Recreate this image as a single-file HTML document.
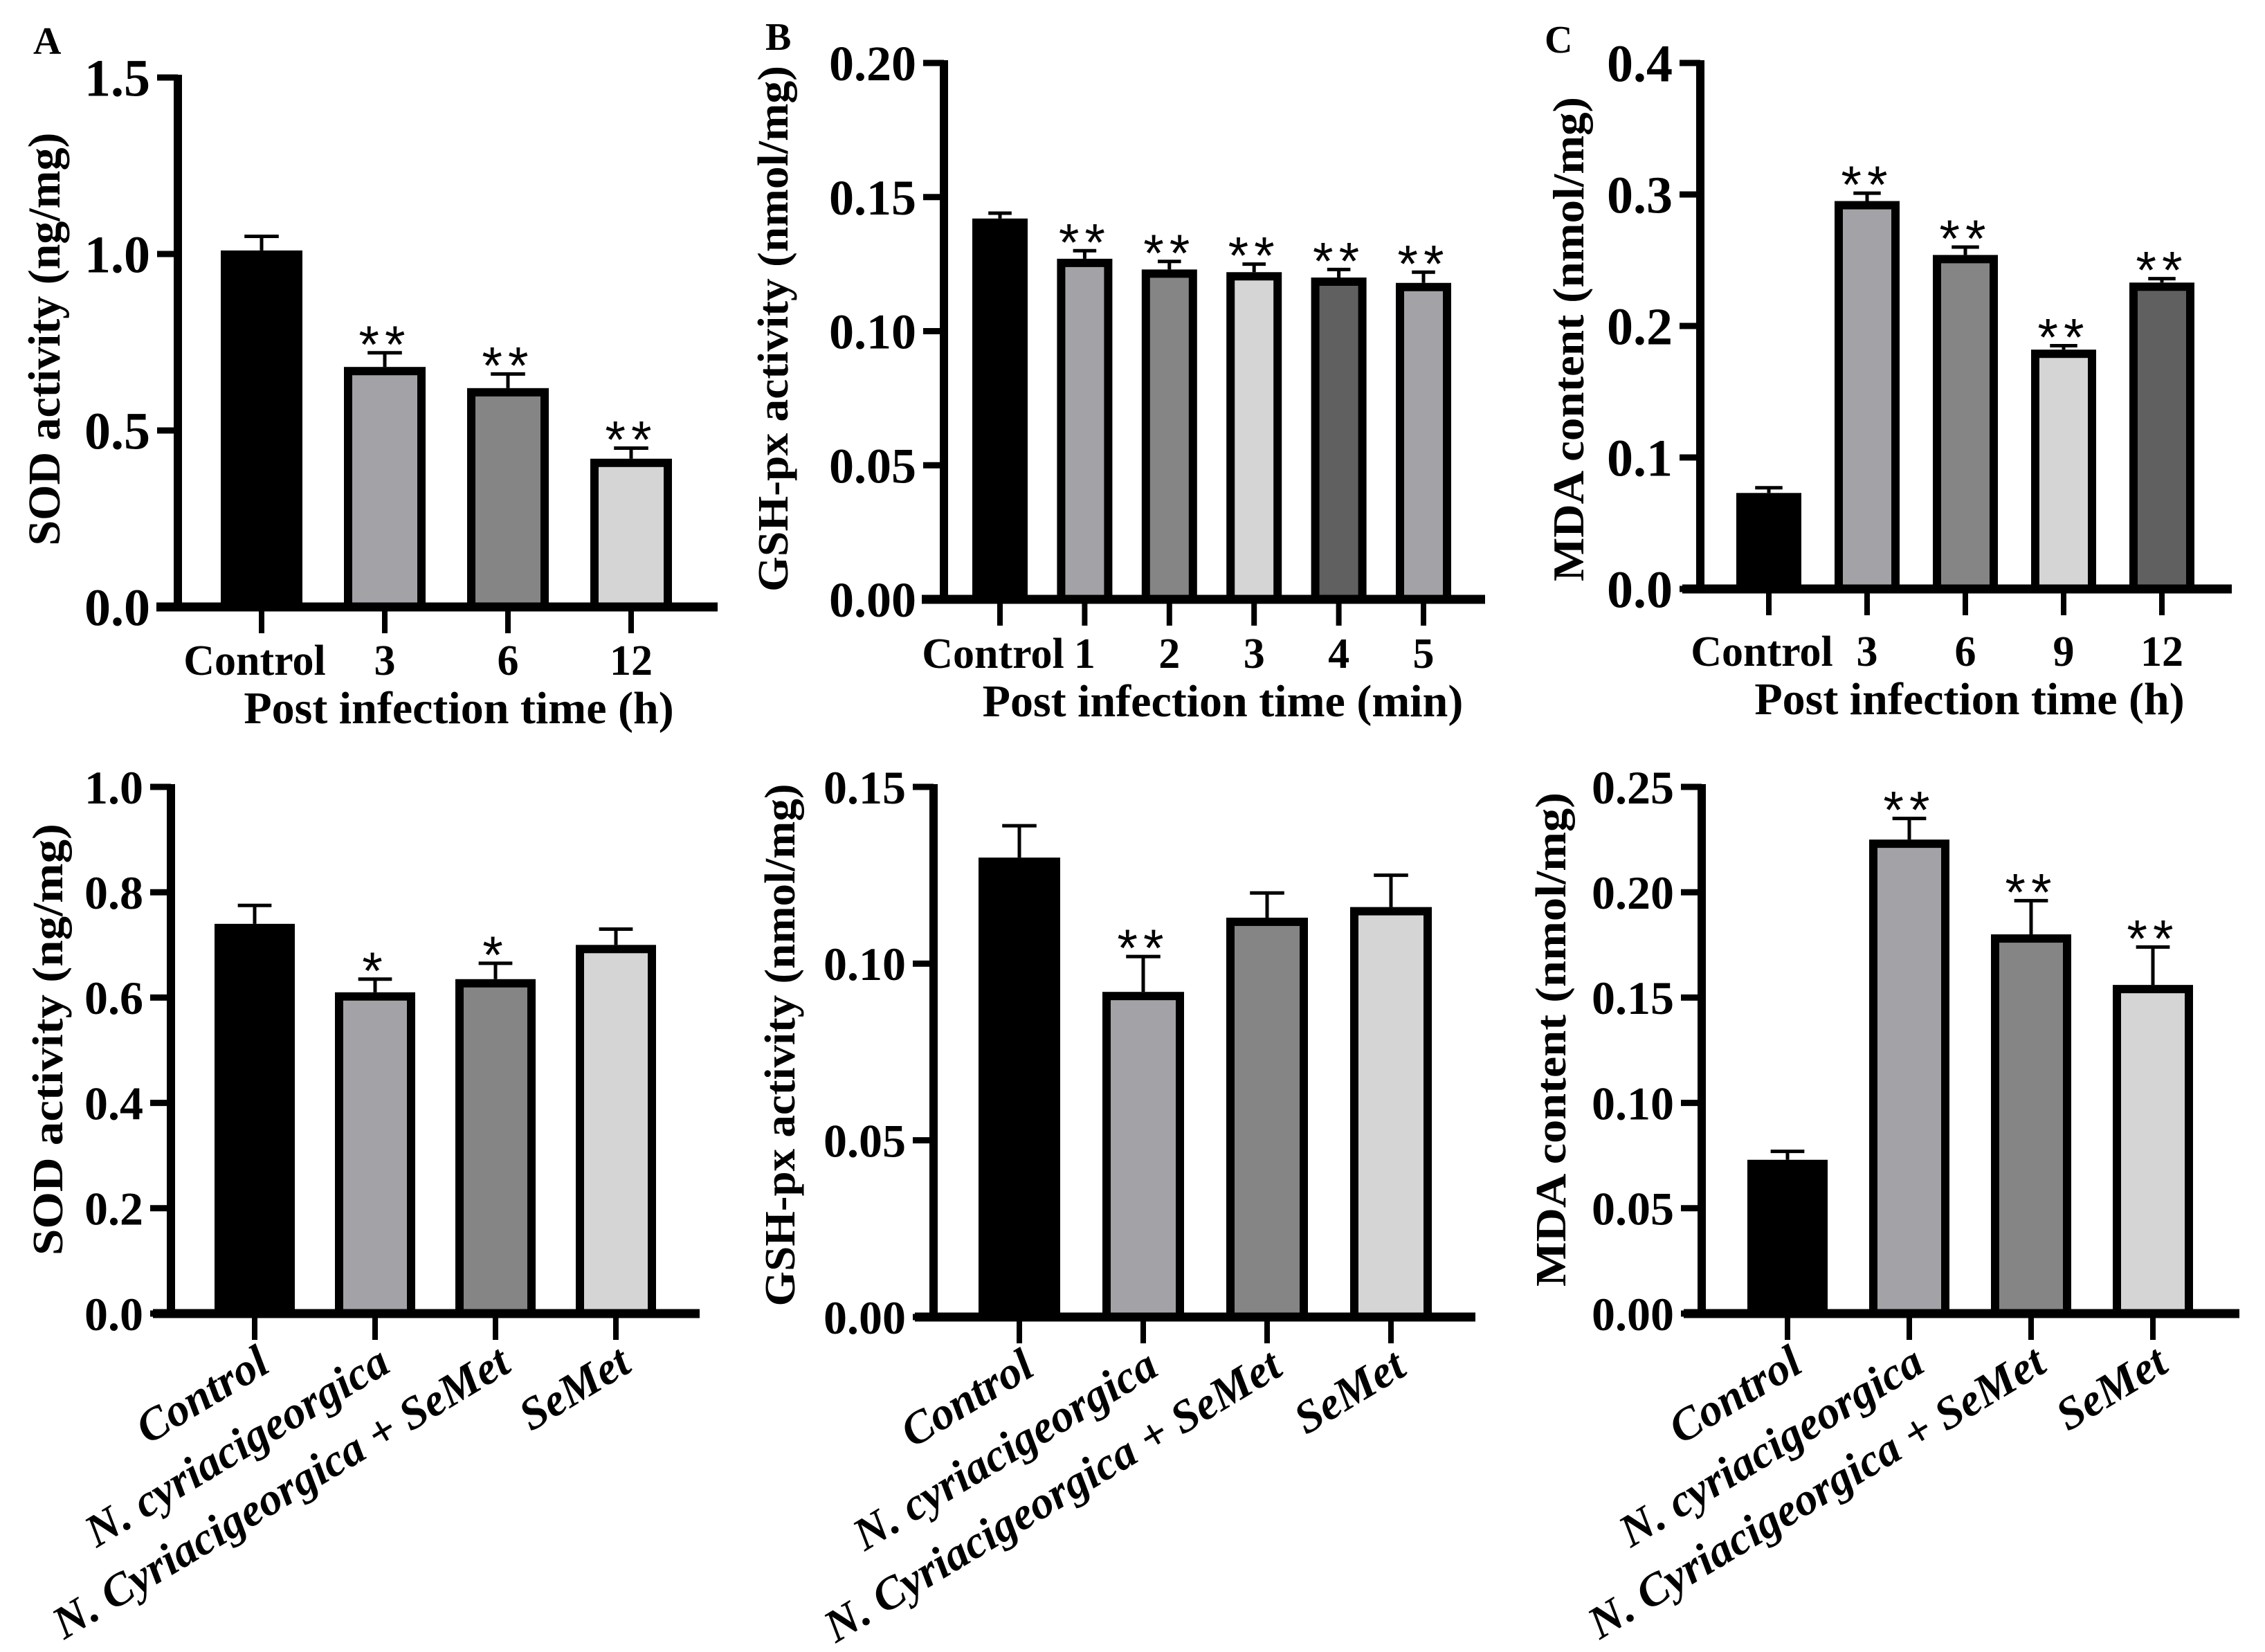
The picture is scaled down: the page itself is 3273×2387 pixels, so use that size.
<!DOCTYPE html>
<html><head><meta charset="utf-8"><style>
html,body{margin:0;padding:0;background:#fff;}
svg{display:block;}
text{font-family:"Liberation Serif",serif;font-weight:bold;fill:#000;}
</style></head><body>
<svg id="fig" width="3273" height="2387" viewBox="0 0 3273 2387" xmlns="http://www.w3.org/2000/svg">
<text x="48" y="78" font-size="56">A</text>
<text x="1106" y="72" font-size="56">B</text>
<text x="2232" y="76" font-size="56">C</text>
</svg>
<script>
// ---- data ----
const catsA1 = ["Control","3","6","12"];
const valsA1 = [1.01,0.68,0.62,0.42];
const errsA1 = [0.04,0.04,0.04,0.03];
const sigA1 = ["","**","**","**"];
const ticksA1 = ["0.0","0.5","1.0","1.5"];

const catsB1 = ["Control","1","2","3","4","5"];
const valsB1 = [0.142,0.127,0.123,0.122,0.120,0.118];
const errsB1 = [0.002,0.003,0.003,0.003,0.003,0.004];
const sigB1 = ["","**","**","**","**","**"];
const ticksB1 = ["0.00","0.05","0.10","0.15","0.20"];

const catsC1 = ["Control","3","6","9","12"];
const valsC1 = [0.073,0.295,0.254,0.182,0.233];
const errsC1 = [0.004,0.006,0.006,0.003,0.003];
const sigC1 = ["","**","**","**","**"];
const ticksC1 = ["0.0","0.1","0.2","0.3","0.4"];

const catsBottom = ["Control","N. cyriacigeorgica","N. Cyriacigeorgica + SeMet","SeMet"];
const valsA2 = [0.74,0.61,0.635,0.70];
const errsA2 = [0.035,0.025,0.03,0.03];
const sigA2 = ["","*","*",""];
const ticksA2 = ["0.0","0.2","0.4","0.6","0.8","1.0"];

const valsB2 = [0.130,0.092,0.113,0.116];
const errsB2 = [0.009,0.010,0.007,0.009];
const sigB2 = ["","**","",""];
const ticksB2 = ["0.00","0.05","0.10","0.15"];

const valsC2 = [0.073,0.225,0.180,0.156];
const errsC2 = [0.004,0.010,0.016,0.018];
const sigC2 = ["","**","**","**"];
const ticksC2 = ["0.00","0.05","0.10","0.15","0.20","0.25"];

const NS="http://www.w3.org/2000/svg";
const svg=document.getElementById('fig');
function mk(tag,attrs,parent){const e=document.createElementNS(NS,tag);for(const k in attrs)e.setAttribute(k,attrs[k]);(parent||svg).appendChild(e);return e;}

const DARK="#000",LG="#a3a3a7",MG="#858585",XL="#d5d5d5",DG="#606060";

function panel(p){
  const g=mk('g',{});
  
  
  const tmax=parseFloat(p.ticks[p.ticks.length-1]);
  const ys=v=>p.y0-(v/tmax)*(p.y0-p.ytop);
  const xs=i=>p.c0+i*p.step;
  p.vals.forEach((v,i)=>{
    const cx=xs(i), top=ys(v), sw=12;
    const r=mk('rect',{x:cx-p.bw/2+sw/2,y:top+sw/2,width:p.bw-sw,height:p.y0-top-sw/2,fill:p.colors[i],stroke:'#000','stroke-width':sw},g);
    
    
    const et=ys(v+p.errs[i]);
    const e1=mk('line',{x1:cx,x2:cx,y1:top,y2:et,stroke:'#000','stroke-width':5},g);
    
    
    const cw=p.bw*0.42;
    const e2=mk('line',{x1:cx-cw/2,x2:cx+cw/2,y1:et,y2:et,stroke:'#000','stroke-width':5},g);
    
    
    if(p.sig[i]){
      const s=mk('text',{x:cx,y:et+14,'text-anchor':'middle','font-size':76,'letter-spacing':8,style:'font-family:"Liberation Sans",sans-serif;font-weight:normal'},g);
      s.textContent=p.sig[i];
      
      
    }
  });
  const ya=mk('line',{x1:p.ax,x2:p.ax,y1:p.ytop-4,y2:p.y0+6,stroke:'#000','stroke-width':12},g);
  
  
  const xa=mk('line',{x1:p.xl,x2:p.xr,y1:p.y0,y2:p.y0,stroke:'#000','stroke-width':13},g);
  
  
  p.ticks.forEach(t=>{
    const y=ys(parseFloat(t));
    const tl=mk('line',{x1:p.ax-30,x2:p.ax,y1:y,y2:y,stroke:'#000','stroke-width':9},g);
    
    
    const tx=mk('text',{x:p.ax-40,y:y+p.tfs*0.35,'text-anchor':'end','font-size':p.tfs},g);
    tx.textContent=t;
    
    
  });
  p.cats.forEach((c,i)=>{
    const cx=xs(i);
    const tl=mk('line',{x1:cx,x2:cx,y1:p.y0,y2:p.y0+38,stroke:'#000','stroke-width':8},g);
    
    
    let tx;
    if(p.rot){
      const ax=cx+25, ay=p.y0+82;
      tx=mk('text',{x:ax,y:ay,'text-anchor':'end','font-size':66,'font-style':'italic',transform:`rotate(-31 ${ax} ${ay})`},g);
    } else {
      tx=mk('text',{x:cx+(i==0?-10:0),y:p.catY,'text-anchor':'middle','font-size':62},g);
    }
    tx.textContent=c;
    
    
  });
  const yl=mk('text',{x:p.ylx,y:p.yly,'text-anchor':'middle','font-size':p.ylfs,transform:`rotate(-90 ${p.ylx} ${p.yly})`,textLength:p.yllen,lengthAdjust:'spacingAndGlyphs'},g);
  yl.textContent=p.ylabel;
  
  
  if(p.xlabel){
    const xl=mk('text',{x:p.xlx,y:p.xly,'text-anchor':'middle','font-size':66},g);
    xl.textContent=p.xlabel;
    
    
  }
}

panel({name:'panel-a-top',key:'a1',cats:catsA1,vals:valsA1,errs:errsA1,sig:sigA1,ticks:ticksA1,
  colors:[DARK,LG,MG,XL],ax:257,ytop:112,y0:877,xl:226,xr:1037,c0:378,step:178,bw:118,tfs:76,
  catY:975,ylabel:'SOD activity (ng/mg)',ylx:86,yly:490,ylfs:66,yllen:597,xlabel:'Post infection time (h)',xlx:663,xly:1045});
panel({name:'panel-b-top',key:'b1',cats:catsB1,vals:valsB1,errs:errsB1,sig:sigB1,ticks:ticksB1,
  colors:[DARK,LG,MG,XL,DG,LG],ax:1364,ytop:91,y0:866,xl:1332,xr:2146,c0:1445,step:122.4,bw:80,tfs:72,
  catY:965,ylabel:'GSH-px activity  (nmol/mg)',ylx:1138,yly:475,ylfs:62,yllen:760,xlabel:'Post infection time (min)',xlx:1767,xly:1035});
panel({name:'panel-c-top',key:'c1',cats:catsC1,vals:valsC1,errs:errsC1,sig:sigC1,ticks:ticksC1,
  colors:[DARK,LG,MG,XL,DG],ax:2457,ytop:91,y0:851,xl:2431,xr:3225,c0:2556,step:142,bw:94,tfs:76,
  catY:962,ylabel:'MDA content (nmol/mg)',ylx:2288,yly:490,ylfs:64,yllen:700,xlabel:'Post infection time (h)',xlx:2846,xly:1032});

panel({name:'panel-a-bottom',key:'a2',cats:catsBottom,vals:valsA2,errs:errsA2,sig:sigA2,ticks:ticksA2,
  colors:[DARK,LG,MG,XL],ax:247,ytop:1137,y0:1898,xl:221,xr:1011,c0:368,step:174,bw:116,tfs:68,rot:true,
  ylabel:'SOD  activity (ng/mg)',ylx:90,yly:1502,ylfs:62,yllen:624});
panel({name:'panel-b-bottom',key:'b2',cats:catsBottom,vals:valsB2,errs:errsB2,sig:sigB2,ticks:ticksB2,
  colors:[DARK,LG,MG,XL],ax:1349,ytop:1137,y0:1903,xl:1322,xr:2132,c0:1473,step:179,bw:118,tfs:68,rot:true,
  ylabel:'GSH-px activity (nmol/mg)',ylx:1148,yly:1510,ylfs:62,yllen:755});
panel({name:'panel-c-bottom',key:'c2',cats:catsBottom,vals:valsC2,errs:errsC2,sig:sigC2,ticks:ticksC2,
  colors:[DARK,LG,MG,XL],ax:2459,ytop:1137,y0:1898,xl:2433,xr:3236,c0:2583,step:176,bw:116,tfs:68,rot:true,
  ylabel:'MDA content (nmol/mg)',ylx:2262,yly:1502,ylfs:62,yllen:714});
</script>
</body></html>
